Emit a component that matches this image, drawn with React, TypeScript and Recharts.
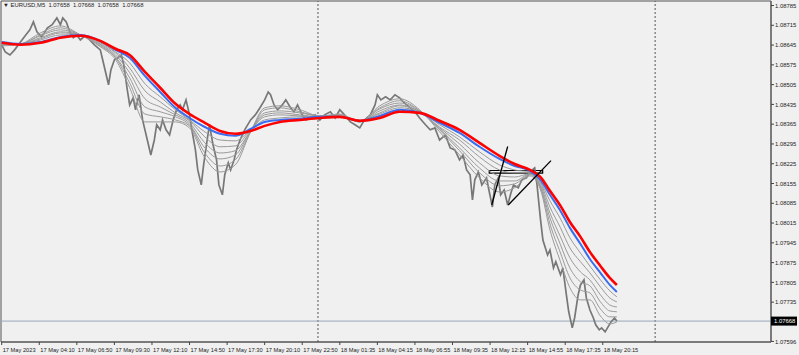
import React from "react";
import { ComposedChart, Line, XAxis, YAxis, ReferenceLine, ReferenceArea } from "recharts";

// ---- Axis labels ----
const timeLabels = [
  "17 May 2023", "17 May 04:10", "17 May 06:50", "17 May 09:30", "17 May 12:10", "17 May 14:50",
  "17 May 17:30", "17 May 20:10", "17 May 22:50", "18 May 01:35", "18 May 04:15", "18 May 06:55",
  "18 May 09:35", "18 May 12:15", "18 May 14:55", "18 May 17:35", "18 May 20:15",
];
const timeTickBars = [0, 32, 64, 96, 128, 160, 192, 224, 256, 288, 320, 352, 384, 416, 448, 480, 512];
const priceTicks = [
  1.08785, 1.08715, 1.08645, 1.08575, 1.08505, 1.08435, 1.08365, 1.08295, 1.08225, 1.08155,
  1.08085, 1.08015, 1.07945, 1.07875, 1.07805, 1.07735, 1.07668, 1.07596,
];
const currentPrice = 1.07668;
const daySeparators = [269.4, 556.6];
const symbolTitle = "EURUSD,M5  1.07658  1.07668  1.07658  1.07668";

// ---- Price (close) by bar index ----
const priceBars = [
  0, 3, 7, 11, 16, 20, 24, 27, 30, 34, 39, 43, 47, 50, 52, 55, 58, 61, 64, 67, 71, 75, 79, 84,
  86, 89, 91, 93, 96, 99, 102, 104, 107, 109, 112, 114, 117, 120, 122, 125, 127, 130, 132, 135, 137, 140,
  143, 146, 149, 152, 154, 157, 160, 162, 165, 167, 170, 172, 175, 177, 180, 183, 185, 188, 190, 193, 195, 198, 200, 203,
  207, 212, 216, 220, 224, 227, 229, 232, 235, 239, 242, 246, 249, 252, 256, 259, 263, 267, 271, 275,
  280, 284, 288, 292, 297, 301, 305, 309, 314, 318, 320, 323, 327, 331, 335, 339, 343, 348, 352, 356,
  361, 365, 369, 373, 378, 382, 386, 390, 393, 396, 399, 401, 403, 406, 409, 413, 415, 418, 420, 423,
  425, 428, 431, 434, 436, 440, 443, 447, 450, 454, 456,
  459, 461, 465, 467, 470, 472, 476, 478, 481, 483, 486, 488, 491, 493, 496, 498, 501, 504, 506, 509,
  511, 514, 516, 519, 522, 524,
];
const priceClose = [
  1.08646, 1.08621, 1.0861, 1.08628, 1.08656, 1.08678, 1.08699, 1.08727, 1.08692, 1.08674, 1.08706, 1.08717,
  1.08741, 1.08717, 1.08741, 1.08727, 1.08692, 1.08671, 1.08681, 1.08663, 1.08678, 1.08663, 1.08646, 1.08628,
  1.08593, 1.0854, 1.08504, 1.08557, 1.08593, 1.086, 1.0861, 1.08575, 1.08486, 1.08433, 1.08458, 1.08416,
  1.08469, 1.0838, 1.08345, 1.08292, 1.08256, 1.08309, 1.08363, 1.08345, 1.0838, 1.08345,
  1.08327, 1.0838, 1.08416, 1.08433, 1.08416, 1.08451, 1.08398, 1.08345, 1.08274, 1.08203, 1.0815, 1.08221,
  1.08309, 1.08363, 1.08292, 1.08239, 1.0815, 1.08115, 1.08186, 1.08228, 1.08203, 1.08239, 1.08274, 1.08309,
  1.08345, 1.0838, 1.08398, 1.08423, 1.08451, 1.08479, 1.08469, 1.08433, 1.08416, 1.08433, 1.08451, 1.08423,
  1.08409, 1.08433, 1.08398, 1.0838, 1.08387, 1.08398, 1.0838, 1.08398,
  1.08409, 1.08387, 1.08416, 1.08398, 1.08373, 1.08363, 1.08352, 1.0838, 1.08398, 1.08433, 1.08469, 1.08451,
  1.08462, 1.08451, 1.08469, 1.08458, 1.0844, 1.08423, 1.08409, 1.08387,
  1.08363, 1.08345, 1.08352, 1.08309, 1.08327, 1.08281, 1.08274, 1.08239, 1.08256, 1.08203, 1.08186, 1.08097,
  1.08168, 1.08196, 1.0815, 1.08175, 1.08132, 1.08072, 1.0815, 1.08175,
  1.08115, 1.08132, 1.08079, 1.08125, 1.0815, 1.0814, 1.08168, 1.08175, 1.08196, 1.0821, 1.0815,
  1.08026, 1.07955, 1.07902, 1.0792, 1.07856, 1.07878, 1.07832, 1.07856, 1.07761, 1.07701, 1.07644, 1.07679,
  1.07761, 1.07796, 1.07814, 1.0775, 1.07708, 1.07679, 1.07655, 1.07637,
  1.07644, 1.0763, 1.07644, 1.07665, 1.07679, 1.07668,
];

// ---- Moving-average ribbon, sampled at these bars ----
const maBars = [
  0, 16, 33, 50, 67, 84, 97, 109, 122, 135, 148, 160, 173, 186, 199, 212, 224, 237, 254, 271,
  288, 305, 322, 339, 356, 373, 390, 407, 424, 437, 450, 459, 467, 476, 484, 493, 501, 510, 518, 524,
];
const redMA = [
  1.08653, 1.08646, 1.08653, 1.08671, 1.08678, 1.0866, 1.08632, 1.0861, 1.0855, 1.08494,
  1.08437, 1.08401, 1.0837, 1.08341, 1.08331, 1.08341, 1.08359, 1.08373, 1.0838, 1.08387,
  1.08391, 1.08377, 1.08387, 1.08409, 1.08405, 1.08377, 1.08345, 1.08299, 1.08253, 1.08224,
  1.08203, 1.08178, 1.08129, 1.08076, 1.08019, 1.07966, 1.07913, 1.07863, 1.07821, 1.07796,
];
const blueMA = [
  1.08656, 1.08649, 1.08656, 1.08674, 1.08681, 1.0866, 1.08628, 1.086, 1.08536, 1.08479,
  1.08423, 1.08387, 1.08355, 1.08331, 1.08324, 1.08348, 1.08373, 1.0838, 1.08384, 1.08391,
  1.08391, 1.08377, 1.08394, 1.08416, 1.08405, 1.0837, 1.08334, 1.08285, 1.08242, 1.08217,
  1.082, 1.08168, 1.08115, 1.08058, 1.07998, 1.07941, 1.07888, 1.07839, 1.07796, 1.07771,
];
const grayMA1 = [
  1.08642, 1.08649, 1.08688, 1.08713, 1.08681, 1.08639, 1.08593, 1.08494, 1.08373, 1.08373,
  1.08373, 1.08352, 1.08246, 1.08196, 1.08221, 1.08338, 1.08423, 1.0843, 1.08416, 1.08394,
  1.08401, 1.08373, 1.0843, 1.08455, 1.08416, 1.08338, 1.08256, 1.08175, 1.08125, 1.0814,
  1.08182, 1.08132, 1.07991, 1.07878, 1.07786, 1.07743, 1.07743, 1.07686, 1.07658, 1.07665,
];
const grayMA2 = [
  1.08646, 1.08649, 1.08681, 1.08706, 1.08681, 1.08642, 1.086, 1.08511, 1.08401, 1.08391,
  1.0838, 1.08359, 1.08263, 1.08217, 1.08239, 1.08338, 1.08416, 1.08423, 1.08409, 1.08394,
  1.08398, 1.08373, 1.08423, 1.08448, 1.08412, 1.08345, 1.08271, 1.08193, 1.08147, 1.08154,
  1.08186, 1.0814, 1.08012, 1.07909, 1.07821, 1.07778, 1.07768, 1.07711, 1.07683, 1.07683,
];
const grayMA3 = [
  1.08646, 1.08649, 1.08678, 1.08699, 1.08681, 1.08646, 1.08603, 1.08529, 1.08426, 1.08409,
  1.08391, 1.08363, 1.08281, 1.08242, 1.08256, 1.08341, 1.08405, 1.08412, 1.08405, 1.08394,
  1.08398, 1.08373, 1.08419, 1.0844, 1.08412, 1.08348, 1.08281, 1.0821, 1.08164, 1.08164,
  1.08189, 1.08143, 1.08033, 1.07938, 1.07856, 1.07807, 1.07793, 1.07736, 1.07704, 1.07701,
];
const grayMA4 = [
  1.08649, 1.08649, 1.08671, 1.08692, 1.08681, 1.08649, 1.0861, 1.08547, 1.08455, 1.08426,
  1.08398, 1.0837, 1.08299, 1.08263, 1.08271, 1.08341, 1.08398, 1.08405, 1.08398, 1.08391,
  1.08394, 1.08373, 1.08412, 1.08433, 1.08409, 1.08352, 1.08295, 1.08228, 1.08182, 1.08178,
  1.08189, 1.0815, 1.08051, 1.07966, 1.07892, 1.07842, 1.07814, 1.07761, 1.07725, 1.07718,
];
const grayMA5 = [
  1.08653, 1.08649, 1.08667, 1.08688, 1.08681, 1.08653, 1.08617, 1.08564, 1.08483, 1.08444,
  1.08405, 1.08377, 1.0832, 1.08285, 1.08288, 1.08345, 1.08391, 1.08398, 1.08394, 1.08391,
  1.08394, 1.08377, 1.08405, 1.0843, 1.08409, 1.08355, 1.08309, 1.08249, 1.08203, 1.08193,
  1.08193, 1.08157, 1.08072, 1.07998, 1.07927, 1.07878, 1.07839, 1.07789, 1.0775, 1.07736,
];
const grayMA6 = [
  1.08653, 1.08649, 1.08663, 1.08681, 1.08681, 1.08656, 1.08621, 1.08582, 1.08508, 1.08462,
  1.08416, 1.0838, 1.08338, 1.08309, 1.08306, 1.08345, 1.0838, 1.08387, 1.08391, 1.08391,
  1.08391, 1.08377, 1.08401, 1.08423, 1.08409, 1.08363, 1.0832, 1.08267, 1.08221, 1.08203,
  1.08196, 1.08161, 1.08094, 1.0803, 1.07963, 1.07909, 1.07863, 1.07814, 1.07775, 1.07754,
];

// ---- Drawn objects (bar index, price) ----
const trendLineA = [[417.4, 1.08079], [431.0, 1.08286]];
const trendLineB = [[431.5, 1.08079], [467.9, 1.08236]];
const boxBars = [415.3, 460.8];
const boxPrices = [1.08192, 1.08201];

const X_DOMAIN: [number, number] = [-0.6, 655.3];
const Y_DOMAIN: [number, number] = [1.07594, 1.08801];

const priceData = priceBars.map((idx, i) => ({ idx, v: priceClose[i] }));
const grayMAs = [grayMA1, grayMA2, grayMA3, grayMA4, grayMA5, grayMA6];
const maData = (arr: number[]) => maBars.map((idx, i) => ({ idx, v: arr[i] }));

const FONT = "'Liberation Sans', Arial, sans-serif";

const XTick = (props: any) => {
  const { x, y, payload } = props;
  const k = timeTickBars.indexOf(payload.value);
  return (
    <g>
      <line x1={x} y1={y} x2={x} y2={y + 3} stroke="#444" strokeWidth={1} />
      <text x={x + 1} y={y + 10} fontSize={5.7} fontFamily={FONT} fill="#222" textAnchor="start">
        {k >= 0 ? timeLabels[k] : ""}
      </text>
    </g>
  );
};

const YTick = (props: any) => {
  const { x, y, payload } = props;
  const v = payload.value as number;
  if (v === currentPrice) {
    return (
      <g>
        <rect x={x} y={y - 4.5} width={26} height={9} fill="#000" />
        <text x={x + 3} y={y + 2.2} fontSize={5.9} fontFamily={FONT} fill="#fff">
          {v.toFixed(5)}
        </text>
      </g>
    );
  }
  return (
    <g>
      <line x1={x} y1={y} x2={x + 3} y2={y} stroke="#444" strokeWidth={1} />
      <text x={x + 4} y={y + 2.2} fontSize={5.9} fontFamily={FONT} fill="#222">
        {v.toFixed(5)}
      </text>
    </g>
  );
};

export default function App() {
  return (
    <div style={{ position: "absolute", left: 0, top: 0, width: 799, height: 355, background: "#f0f0f0" }}>
      <ComposedChart width={799} height={355} margin={{ top: 1, right: 0, bottom: 0, left: 1 }}>
        <XAxis
          type="number"
          dataKey="idx"
          domain={X_DOMAIN}
          allowDataOverflow
          ticks={timeTickBars}
          interval={0}
          height={13}
          tickSize={0}
          tickMargin={0}
          tickLine={false}
          axisLine={{ stroke: "#555" }}
          tick={<XTick />}
        />
        <YAxis
          type="number"
          orientation="right"
          domain={Y_DOMAIN}
          allowDataOverflow
          ticks={priceTicks}
          interval={0}
          width={28}
          tickSize={0}
          tickMargin={0}
          tickLine={false}
          axisLine={{ stroke: "#555" }}
          tick={<YTick />}
        />
        <ReferenceArea
          x1={X_DOMAIN[0]}
          x2={X_DOMAIN[1]}
          y1={Y_DOMAIN[0]}
          y2={Y_DOMAIN[1]}
          fill="none"
          stroke="#555"
          strokeWidth={1}
          ifOverflow="visible"
        />
        {daySeparators.map((d) => (
          <ReferenceLine key={d} x={d} stroke="#555" strokeDasharray="2 2" strokeWidth={1} />
        ))}
        <ReferenceLine y={currentPrice} stroke="#9aa6b8" strokeWidth={1} />
        <Line
          data={priceData}
          dataKey="v"
          type="linear"
          stroke="#777777"
          strokeWidth={1.7}
          dot={false}
          isAnimationActive={false}
        />
        {grayMAs.map((arr, i) => (
          <Line
            key={"g" + i}
            data={maData(arr)}
            dataKey="v"
            type="monotone"
            stroke="#9a9a9a"
            strokeWidth={1}
            dot={false}
            isAnimationActive={false}
          />
        ))}
        <Line
          data={maData(blueMA)}
          dataKey="v"
          type="monotone"
          stroke="#3a6cf0"
          strokeWidth={2}
          dot={false}
          isAnimationActive={false}
        />
        <Line
          data={maData(redMA)}
          dataKey="v"
          type="monotone"
          stroke="#ff0000"
          strokeWidth={2.6}
          dot={false}
          isAnimationActive={false}
        />
        <ReferenceLine
          segment={[{ x: trendLineA[0][0], y: trendLineA[0][1] }, { x: trendLineA[1][0], y: trendLineA[1][1] }]}
          stroke="#000"
          strokeWidth={1.3}
        />
        <ReferenceLine
          segment={[{ x: trendLineB[0][0], y: trendLineB[0][1] }, { x: trendLineB[1][0], y: trendLineB[1][1] }]}
          stroke="#000"
          strokeWidth={1.3}
        />
        <ReferenceArea
          x1={boxBars[0]}
          x2={boxBars[1]}
          y1={boxPrices[0]}
          y2={boxPrices[1]}
          fill="none"
          stroke="#000"
          strokeWidth={1.2}
        />
      </ComposedChart>
      <div
        style={{
          position: "absolute",
          left: 3,
          top: 1,
          fontSize: 5.9,
          fontFamily: FONT,
          color: "#222",
          whiteSpace: "pre",
          lineHeight: "9px",
        }}
      >
        {"▼ " + symbolTitle}
      </div>
    </div>
  );
}
